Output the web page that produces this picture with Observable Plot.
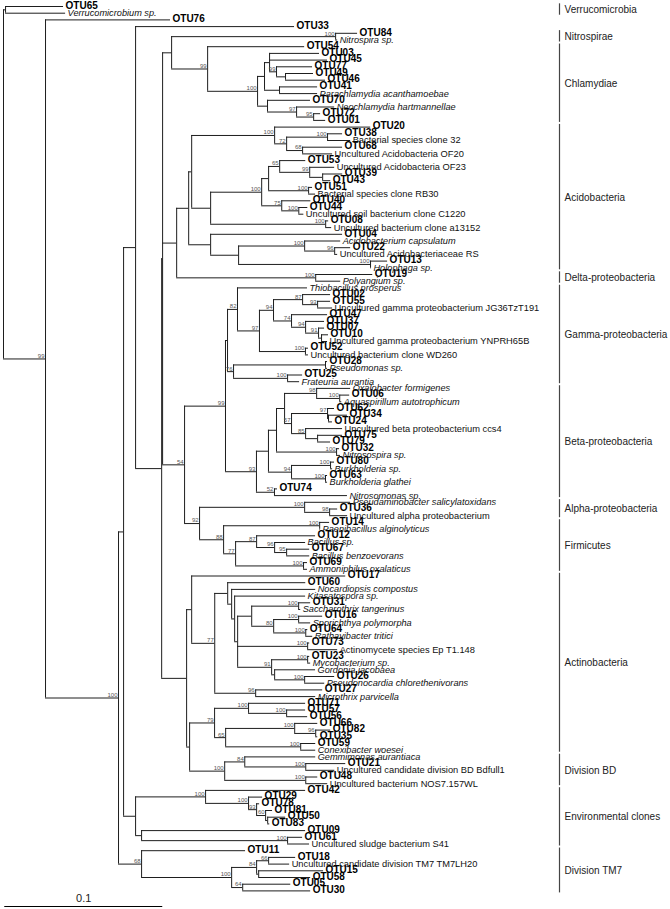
<!DOCTYPE html>
<html><head><meta charset="utf-8">
<script src="https://cdn.jsdelivr.net/npm/d3@7"></script>
<script src="https://cdn.jsdelivr.net/npm/@observablehq/plot@0.6"></script>
<style>body{margin:0;background:#fff}#chart svg{display:block}</style>
</head><body><div id="chart"></div>
<script>
// Taxa in leaf order (Newick leaves refer to these by index)
const taxa = [
"OTU65","Verrucomicrobium sp.","OTU76","OTU33","OTU84","Nitrospira sp.","OTU54","OTU03","OTU45","OTU77",
"OTU49","OTU46","OTU41","Parachlamydia acanthamoebae","OTU70","Neochlamydia hartmannellae","OTU72","OTU01","OTU20","OTU38",
"Bacterial species clone 32","OTU68","Uncultured Acidobacteria OF20","OTU53","Uncultured Acidobacteria OF23","OTU39","OTU43","OTU51","Bacterial species clone RB30","OTU40",
"OTU44","Uncultured soil bacterium clone C1220","OTU08","Uncultured bacterium clone a13152","OTU04","Acidobacterium capsulatum","OTU22","Uncultured Acidobacteriaceae RS","OTU13","Holophaga sp.",
"OTU19","Polyangium sp.","Thiobacillus prosperus","OTU02","OTU55","Uncultured gamma proteobacterium JG36TzT191","OTU47","OTU37","OTU07","OTU10",
"Uncultured gamma proteobacterium YNPRH65B","OTU52","Uncultured bacterium clone WD260","OTU28","Pseudomonas sp.","OTU25","Frateuria aurantia","Oxalobacter formigenes","OTU06","Aquaspirillum autotrophicum",
"OTU62","OTU34","OTU24","Uncultured beta proteobacterium ccs4","OTU75","OTU79","OTU32","Nitrosospira sp.","OTU80","Burkholderia sp.",
"OTU63","Burkholderia glathei","OTU74","Nitrosomonas sp.","Pseudaminobacter salicylatoxidans","OTU36","Uncultured alpha proteobacterium","OTU14","Paenibacillus alginolyticus","OTU12",
"Bacillus sp.","OTU67","Bacillus benzoevorans","OTU69","Ammoniphilus oxalaticus","OTU17","OTU60","Nocardiopsis compostus","Kitasatospora sp.","OTU31",
"Saccharothrix tangerinus","OTU16","Sporichthya polymorpha","OTU64","Rathayibacter tritici","OTU73","Actinomycete species Ep T1.148","OTU23","Mycobacterium sp.","Gordonia jacobaea",
"OTU26","Pseudonocardia chlorethenivorans","OTU27","Microthrix parvicella","OTU71","OTU57","OTU56","OTU66","OTU82","OTU35",
"OTU59","Conexibacter woesei","Gemmimonas aurantiaca","OTU21","Uncultured candidate division BD Bdfull1","OTU48","Uncultured bacterium NOS7.157WL","OTU42","OTU29","OTU78",
"OTU81","OTU50","OTU83","OTU09","OTU61","Uncultured sludge bacterium S41","OTU11","OTU18","Uncultured candidate division TM7 TM7LH20","OTU15",
"OTU58","OTU05","OTU30"
];

// Phylum brackets
const groups = ["Verrucomicrobia","Nitrospirae","Chlamydiae","Acidobacteria","Delta-proteobacteria","Gamma-proteobacteria","Beta-proteobacteria","Alpha-proteobacteria","Firmicutes","Actinobacteria","Division BD","Environmental clones","Division TM7"];
const groupFirst = [0,4,6,18,40,42,57,74,77,85,112,117,126];
const groupLast  = [1,5,17,39,41,56,73,76,84,111,116,125,132];

// Scale bar
const scaleBar = {length: 0.1, label: "0.1"};

// Clades (Newick, leaf = taxon index, internal label = bootstrap, branch lengths in substitutions/site)
const NITRO = "(4:0.0139,5:0.0013)100";
const C2B = "(9:0.0228,(10:0.0177,11:0.0253):0.0057)99";
const C2A = `(7:0.0316,8:0.0367,${C2B}:0.0044)`;
const C2 = `(${C2A}:0.0032,(12:0.0241,13:0.0241):0.0095)`;
const C3 = "(14:0.0272,(15:0.0241,(16:0.0044,17:0.0076)95:0.0108)97:0.0184)";
const C1 = `(${C2}:0.0044,${C3}:0.0063)100`;
const C0 = `(6:0.0614,${C1}:0.0316)99`;
const N171 = `(${NITRO}:0.1038,${C0}:0.0228)`;

const A1 = "(18:0.0608,((19:0.0095,20:0.0146)100:0.0259,(21:0.0253,22:0.0190)68:0.0101)72:0.0076)100";
const B1 = "(23:0.0165,(24:0.0158,(25:0.0127,26:0.0051):0.0082)99:0.0190)65";
const BX = `(${B1}:0.0070,(27:0.0025,28:0.0044)100:0.0253)`;
const N75 = "(29:0.0184,(30:0.0057,31:0.0032)100:0.0108)75";
const B0 = `(${BX}:0.0044,${N75}:0.0127)100`;
const N210 = `(${B0}:0.0323,(32:0.0019,33:0.0038)100:0.0728)`;
const QA = `(${A1}:0.0525,${N210}:0.0120)`;
const N238 = "((35:0.0228,(36:0.0101,37:0.0019)96:0.0190)100:0.0418,(38:0.0108,39:0.0006)100:0.0835)";
const N210L = `(34:0.0835,${N238}:0.0177)`;
const ACID = `(${QA}:0.0019,${N210L}:0.0139)`;
const N176 = `(${ACID}:0.0076,(40:0.0361,41:0.0158)100:0.0880)`;

const G3 = "((43:0.0177,(44:0.0082,45:0.0095)93:0.0095)87:0.0184,(46:0.0228,(47:0.0120,(48:0.0038,(49:0.0044,50:0.0038):0.0019)91:0.0082)94:0.0089)74:0.0114)94";
const G2 = `(${G3}:0.0089,(51:0.0019,52:0.0019)100:0.0291)97`;
const G1 = `(42:0.0443,${G2}:0.0139)82`;
const G4 = "((53:0.0013,54:0.0013):0.0582,(55:0.0095,56:0.0076)100:0.0342)76";
const GAMMA = `(${G1}:0.0063,${G4}:0.0038)`;
const N284B = "((57:0.0215,(58:0.0063,59:0.0013)100:0.0146)98:0.0203,((60:0.0044,(61:0.0120,62:0.0025):0.0006)97:0.0228,(63:0.0234,(64:0.0158,65:0.0082):0.0076)85:0.0089)57:0.0044)";
const N276B = `(${N284B}:0.0051,(66:0.0019,67:0.0025)100:0.0380)`;
const N268B = `(${N276B}:0.0051,((68:0.0025,69:0.0013)100:0.0247,(70:0.0013,71:0.0013)100:0.0215)94:0.0146)`;
const BETA = `(${N268B}:0.0076,(72:0.0019,73:0.0462)52:0.0114)93`;
const GB = `(${GAMMA}:0.0013,${BETA}:0.0196)99`;
const ALPHA = "(74:0.0291,(75:0.0051,76:0.0114)98:0.0158)100";
const FIRM = "((77:0.0063,78:0.0006)100:0.0608,((79:0.0373,(80:0.0196,(81:0.0146,82:0.0146)95:0.0076)96:0.0114)87:0.0133,(83:0.0025,84:0.0025)100:0.0430)77:0.0076)88";
const AF = `(${ALPHA}:0.0665,${FIRM}:0.0152)92`;
const N184 = `(${GB}:0.0259,${AF}:0.0095)54`;
const N162 = `(${N171}:0.0057,${N176}:0.0089,${N184}:0.0139)`;

const N237 = "(((89:0.0076,90:0.0013)100:0.0297,((91:0.0152,92:0.0076)100:0.0158,(93:0.0013,94:0.0044)100:0.0203)80:0.0139):0.0089,(95:0.0013,96:0.0190)100:0.0443,((97:0.0013,98:0.0019)100:0.0228,(99:0.0259,(100:0.0190,101:0.0127)100:0.0190):0.0019)91:0.0215)";
const N227 = `(86:0.0494,(87:0.0532,(88:0.0449,${N237}:0.0019):0.0019):0.0025)`;
const ACTINO = `(85:0.0975,(${N227}:0.0082,(102:0.0424,103:0.0380)96:0.0259)77:0.0146)`;
const N214B = "((104:0.0361,(105:0.0120,106:0.0133)100:0.0241)100:0.0215,((107:0.0146,(108:0.0095,109:0.0013)96:0.0133)100:0.0437,(110:0.0095,111:0.0095)100:0.0475)65:0.0070)79";
const BD = "((112:0.0449,(113:0.0253,114:0.0184)100:0.0386)84:0.0127,(115:0.0076,116:0.0139)100:0.0513)100";
const N186 = `(${ACTINO}:0.0032,(${N214B}:0.0158,${BD}:0.0222):0.0019)`;
const N161 = `(${N162}:0.0006,${N186}:0.0158)`;
const N135 = `(3:0.1006,${N161}:0.0165)`;
const ENV = "((117:0.0633,(118:0.0089,(119:0.0019,(120:0.0044,(121:0.0114,122:0.0013):0.0013)60:0.0057)93:0.0051)100:0.0272)100:0.0443,(123:0.1038,(124:0.0095,125:0.0139)100:0.0924):0.0038)";
const TM7 = "(126:0.0658,(((127:0.0171,128:0.0133)66:0.0076,(129:0.0411,130:0.0329):0.0013)84:0.0158,(131:0.0304,132:0.0430)64:0.0070)100:0.0570)68";
const N118 = `((${N135}:0.0076,${ENV}:0.0076):0.0032,${TM7}:0.0146)100`;
const newick = `((0:0.0367,1:0.0380):0.0013,(2:0.0791,${N118}:0.0462)99:0.0266);`;

function parseNewick(s) {
  let i = 0;
  function node() {
    const n = {children: [], label: "", length: 0};
    if (s[i] === "(") {
      i++;
      n.children.push(node());
      while (s[i] === ",") { i++; n.children.push(node()); }
      i++;
    }
    let lab = "";
    while (i < s.length && !",:();".includes(s[i])) lab += s[i++];
    n.label = lab.trim();
    if (s[i] === ":") {
      i++; let num = "";
      while (i < s.length && !",();".includes(s[i])) num += s[i++];
      n.length = +num;
    }
    return n;
  }
  return node();
}

const root = parseNewick(newick);
const nodes = [];
let leafCount = 0;
(function walk(n, parent) {
  n.parent = parent;
  n.depth = (parent ? parent.depth : 0) + n.length;
  nodes.push(n);
  if (n.children.length) {
    n.children.forEach(c => walk(c, n));
    n.y = (n.children[0].y + n.children[n.children.length - 1].y) / 2;
  } else {
    n.y = leafCount++;
    n.taxon = taxa[+n.label];
  }
})(root, null);

const branches = nodes.filter(n => n.parent);
const internals = nodes.filter(n => n.children.length);
const leaves = nodes.filter(n => !n.children.length);
const boots = internals.filter(n => n.label);
const isOTU = d => /^OTU/.test(d.taxon);
const isPlain = d => /^(Uncultured|Bacterial|Actinomycete)/.test(d.taxon);
const groupData = groups.map((g, k) => ({name: g, y1: groupFirst[k] - 0.4, y2: groupLast[k] + 0.3, y: (groupFirst[k] + groupLast[k]) / 2}));

const bracketX = 0.3519, groupLabelX = 0.3551, barStart = 0.0008;
const lineColor = "#1e1e1e";

const chart = Plot.plot({
  width: 670, height: 909, margin: 0,
  x: {domain: [0, 0.42], range: [3, 3 + 0.42 * 1580], axis: null},
  y: {domain: [0, 132], range: [6, 890.4], axis: null},
  style: {fontFamily: "'Liberation Sans', Arial, sans-serif", background: "#fff"},
  marks: [
    Plot.ruleY(branches, {y: "y", x1: d => d.parent.depth, x2: "depth", stroke: lineColor, strokeWidth: 1}),
    Plot.ruleX(internals, {x: "depth", y1: d => d.children[0].y, y2: d => d.children[d.children.length - 1].y, stroke: lineColor, strokeWidth: 1}),
    Plot.text(leaves.filter(isOTU), {x: "depth", y: "y", text: "taxon", dx: 2, dy: -1, textAnchor: "start", fontSize: 10, fontWeight: "bold", fill: "#000"}),
    Plot.text(leaves.filter(d => !isOTU(d) && isPlain(d)), {x: "depth", y: "y", text: "taxon", dx: 2, textAnchor: "start", fontSize: 9.3, fill: "#111"}),
    Plot.text(leaves.filter(d => !isOTU(d) && !isPlain(d)), {x: "depth", y: "y", text: "taxon", dx: 2, textAnchor: "start", fontSize: 9.2, fontStyle: "italic", fill: "#111"}),
    Plot.text(boots, {x: "depth", y: "y", text: "label", dx: -1, dy: -3, textAnchor: "end", fontSize: 6, fill: "#555"}),
    Plot.ruleX(groupData, {x: () => bracketX, y1: "y1", y2: "y2", stroke: "#444", strokeWidth: 1.2}),
    Plot.text(groupData, {x: () => groupLabelX, y: "y", text: "name", textAnchor: "start", fontSize: 10, fill: "#222"}),
    Plot.ruleY([scaleBar], {y: () => 134.33, x1: () => barStart, x2: d => barStart + d.length, stroke: "#000", strokeWidth: 1}),
    Plot.text([scaleBar], {x: d => barStart + d.length / 2, y: () => 133.2, text: "label", fontSize: 11, fill: "#222"})
  ]
});
document.getElementById("chart").append(chart);
</script>
</body></html>
